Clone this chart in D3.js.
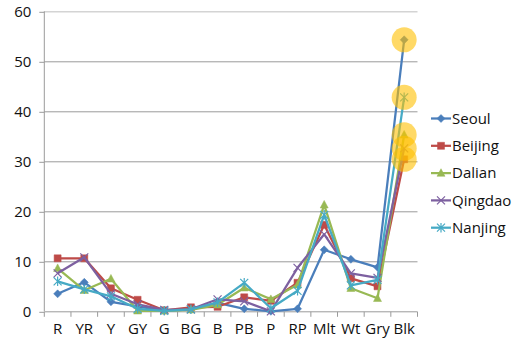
<!DOCTYPE html>
<html><head><meta charset="utf-8">
<script src="https://cdn.jsdelivr.net/npm/d3@7"></script>
<style>body{margin:0;background:#fff}text{font-family:"Open Sans",sans-serif}</style>
</head><body><svg id="c" width="517" height="349"></svg>
<script>
const categories = ["R","YR","Y","GY","G","BG","B","PB","P","RP","Mlt","Wt","Gry","Blk"];
const seriesNames = ["Seoul","Beijing","Dalian","Qingdao","Nanjing"];
const seoul   = [3.5, 5.8, 1.9, 1.0, 0.1, 0.4, 1.7, 0.5, 0.0, 0.5, 12.3, 10.4, 8.8, 54.3];
const beijing = [10.6, 10.6, 4.6, 2.3, 0.2, 0.8, 0.9, 2.8, 2.1, 5.7, 17.3, 6.6, 5.0, 30.4];
const dalian  = [8.6, 4.2, 6.5, 0.1, 0.1, 0.3, 1.3, 4.7, 2.4, 5.3, 21.3, 4.6, 2.6, 35.3];
const qingdao = [7.6, 10.8, 3.5, 1.4, 0.3, 0.4, 2.4, 2.0, 0.0, 8.7, 15.4, 7.6, 6.7, 32.6];
const nanjing = [6.0, 4.4, 3.0, 0.5, 0.1, 0.4, 1.8, 5.7, 0.6, 4.1, 19.3, 5.2, 6.3, 42.8];
const yTicks = [0,10,20,30,40,50,60];
const colors = ["#4A7EBB","#BE4B48","#98B954","#7D60A0","#46AAC5"];
const markers = ["diamond","square","triangle","x","star"];
const seriesValues = [seoul, beijing, dalian, qingdao, nanjing];

const svg = d3.select("#c");
const L = 44.3, R = 417.5, T = 11.3, B = 311.3;
const x = d3.scaleBand().domain(categories).range([L, R]);
const y = d3.scaleLinear().domain([0, 60]).range([B, T]);

// gridlines
svg.append("g").selectAll("line").data(yTicks.filter(d => d > 0)).join("line")
  .attr("x1", L).attr("x2", R).attr("y1", d => y(d) + 0.5).attr("y2", d => y(d) + 0.5)
  .attr("stroke", d => d === 60 ? "#d4d4d4" : "#9a9a9a").attr("stroke-width", d => d === 60 ? 1.5 : 1);

// y axis
const ya = svg.append("g").attr("transform", `translate(${L},0)`)
  .call(d3.axisLeft(y).tickValues(yTicks).tickSize(5).tickPadding(8));
ya.select(".domain").attr("stroke", "#9a9a9a").attr("d", `M-0.0,${T}V${B}`);
ya.selectAll(".tick line").attr("stroke", "#9a9a9a").attr("transform", "translate(0,0.5)");
ya.selectAll(".tick text").attr("font-size", 15).attr("fill", "#111").attr("font-family", "Open Sans");

// x axis
const xa = svg.append("g").attr("transform", `translate(0,${B + 0.5})`)
  .call(d3.axisBottom(x).tickSize(0).tickPadding(12));
xa.select(".domain").attr("stroke", "#9a9a9a").attr("d", `M${L},0H${R}`);
xa.selectAll(".tick text").attr("font-size", 15).attr("fill", "#111").attr("font-family", "Open Sans");
const bounds = categories.map(c => x(c)).concat([R]);
xa.append("g").selectAll("line").data(bounds).join("line")
  .attr("x1", d => d).attr("x2", d => d).attr("y1", 0).attr("y2", 5).attr("stroke", "#9a9a9a");

function markerPath(type, size) {
  const s = size;
  switch (type) {
    case "diamond": return `M0,${-s}L${s},0L0,${s}L${-s},0Z`;
    case "square": return `M${-s},${-s}H${s}V${s}H${-s}Z`;
    case "triangle": return `M0,${-s*1.1}L${s},${s*0.8}L${-s},${s*0.8}Z`;
    case "x": return `M${-s},${-s}L${s},${s}M${-s},${s}L${s},${-s}`;
    case "star": return `M${-s},${-s}L${s},${s}M${-s},${s}L${s},${-s}M0,${-s*1.2}V${s*1.2}`;
  }
}
const cx = c => x(c) + x.bandwidth() / 2;
const line = d3.line().x((d, i) => cx(categories[i])).y(d => y(d));

seriesValues.forEach((vals, si) => {
  const g = svg.append("g");
  g.append("path").datum(vals).attr("d", line).attr("fill", "none")
    .attr("stroke", colors[si]).attr("stroke-width", 2.25).attr("stroke-linejoin", "round");
  const filled = ["diamond","square","triangle"].includes(markers[si]);
  g.selectAll("path.m").data(vals).join("path").attr("class", "m")
    .attr("transform", (d, i) => `translate(${cx(categories[i])},${y(d)})`)
    .attr("d", markerPath(markers[si], markers[si] === "square" ? 3.5 : 4))
    .attr("fill", filled ? colors[si] : "none")
    .attr("stroke", colors[si]).attr("stroke-width", filled ? 0.5 : 1.2);
});

// highlight circles at last category
const last = categories.length - 1;
svg.append("g").selectAll("circle").data(seriesValues.map(v => v[last])).join("circle")
  .attr("cx", cx(categories[last])).attr("cy", d => y(d)).attr("r", 12.5)
  .attr("fill", "#FFC000").attr("fill-opacity", 0.6);

// legend
const lg = svg.append("g");
seriesNames.forEach((n, i) => {
  const yy = 118.5 + i * 27.3;
  const g = lg.append("g").attr("transform", `translate(0,${yy})`);
  g.append("line").attr("x1", 431).attr("x2", 451).attr("y1", 0).attr("y2", 0)
    .attr("stroke", colors[i]).attr("stroke-width", 2.25);
  const filled = ["diamond","square","triangle"].includes(markers[i]);
  g.append("path").attr("transform", "translate(441,0)")
    .attr("d", markerPath(markers[i], markers[i] === "square" ? 3.5 : 4))
    .attr("fill", filled ? colors[i] : "none").attr("stroke", colors[i]).attr("stroke-width", filled ? 0.5 : 1.2);
  g.append("text").attr("x", 452).attr("y", 0).attr("dy", "0.35em")
    .attr("font-size", 15).attr("fill", "#111").text(n);
});
</script></body></html>
